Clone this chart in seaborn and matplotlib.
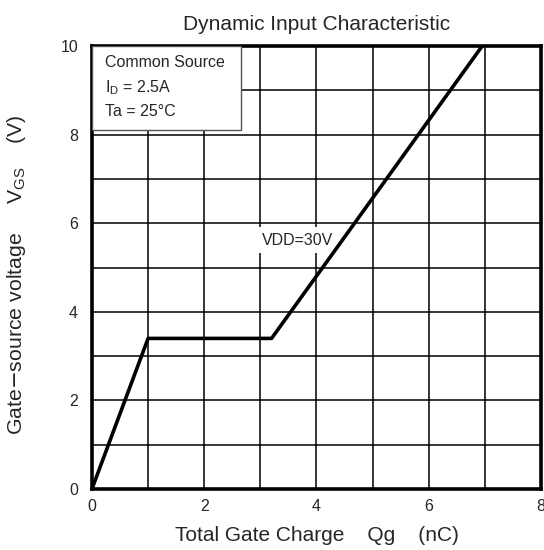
import numpy as np
import pandas as pd
import matplotlib
matplotlib.use('Agg')
import matplotlib.pyplot as plt
from matplotlib.patches import Rectangle
import seaborn as sns

# curve
qg = [0.0, 1.0, 3.2, 6.95]
vgs = [0.0, 3.4, 3.4, 10.0]

x_ticks = [0, 2, 4, 6, 8]
y_ticks = [0, 2, 4, 6, 8, 10]

cond_lines = ['Common Source', 'I$_{\\mathregular{D}}$ = 2.5A', 'Ta = 25°C']

sns.set_style('white')
plt.rcParams['font.family'] = ['Liberation Sans', 'DejaVu Sans']

df = pd.DataFrame({'Qg': qg, 'VGS': vgs})

fig = plt.figure(figsize=(5.44, 5.5), dpi=100)
ax = fig.add_axes([0.169, 0.111, 0.8255, 0.805])

sns.lineplot(data=df, x='Qg', y='VGS', ax=ax, color='black', linewidth=2.6,
             sort=False, zorder=3)

ax.set_xlim(0, 8)
ax.set_ylim(0, 10)
ax.set_xticks(np.arange(0, 9, 1), minor=True)
ax.set_yticks(np.arange(0, 11, 1), minor=True)
ax.set_xticks(x_ticks)
ax.set_yticks(y_ticks)
ax.grid(True, which='both', color='black', linewidth=1.1)
ax.tick_params(which='both', length=0, labelsize=11.5)
ax.tick_params(axis='x', pad=7)
ax.tick_params(axis='y', pad=10)

for s in ax.spines.values():
    s.set_linewidth(2.6)
    s.set_color('black')

ax.set_title('Dynamic Input Characteristic', fontsize=15, pad=12)
ax.set_xlabel('Total Gate Charge    Qg    (nC)', fontsize=15, labelpad=9)
ax.set_ylabel(r'Gate$-$source voltage     V$_{\mathregular{GS}}$    (V)',
              fontsize=15.3)
ax.yaxis.set_label_coords(-0.143, 0.485)

ax.text(3.66, 5.62, 'VDD=30V', ha='center', va='center', fontsize=11.5,
        zorder=2.5, bbox=dict(facecolor='white', edgecolor='none', pad=4))

# condition box in the upper left corner
ax.add_patch(Rectangle((0, 0.81), 0.331, 0.19, transform=ax.transAxes,
                       facecolor='white', edgecolor='#555555', linewidth=1.0,
                       zorder=4))
for txt, yy in zip(cond_lines, [0.963, 0.907, 0.853]):
    ax.text(0.029, yy, txt, transform=ax.transAxes, ha='left', va='center',
            fontsize=11.5, zorder=5)

fig.savefig('out.png', dpi=100)
